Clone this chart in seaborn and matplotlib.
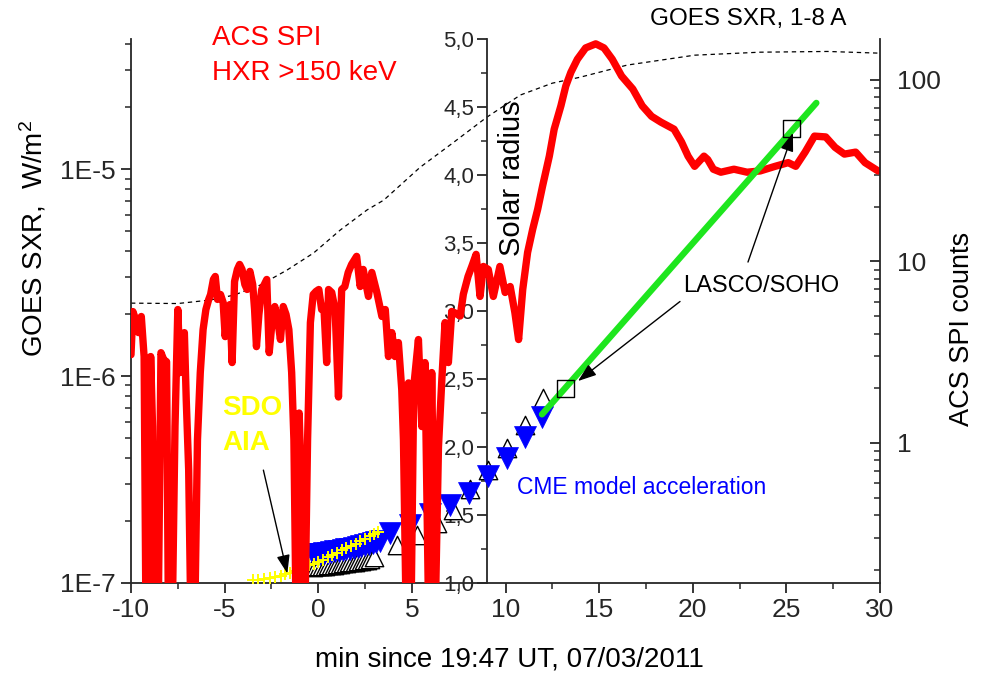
import matplotlib
matplotlib.use("Agg")
import matplotlib.pyplot as plt
import seaborn as sns
from matplotlib.ticker import FixedLocator, FixedFormatter, MultipleLocator, NullFormatter, LogLocator

# ---------------- data ----------------
# ACS SPI counts (right log axis); 0.1 = dropout below the axis
red_t = [-10.0, -9.9, -9.75, -9.6, -9.45, -9.3, -9.2, -9.05, -8.95, -8.85, -8.75, -8.55,
         -8.4, -8.25, -8.1, -8.0, -7.8, -7.65, -7.5, -7.38, -7.25, -7.15, -7.05, -6.92,
         -6.8, -6.6, -6.45, -6.3, -6.15, -6.0, -5.85, -5.75, -5.6, -5.5, -5.38, -5.22,
         -5.08, -4.97, -4.85, -4.72, -4.6, -4.47, -4.32, -4.2, -4.07, -3.92, -3.8, -3.65,
         -3.5, -3.4, -3.3, -3.17, -3.02, -2.88, -2.75, -2.62, -2.47, -2.32, -2.17, -2.02,
         -1.87, -1.72, -1.57, -1.42, -1.3, -1.18, -1.02, -0.88, -0.72, -0.57, -0.42, -0.27,
         -0.12, 0.03, 0.18, 0.3, 0.45, 0.55, 0.72, 0.9, 1.08, 1.25, 1.42, 1.6,
         1.78, 2.05, 2.24, 2.4, 2.68, 2.86, 3.13, 3.4, 3.58, 3.75, 3.93, 4.1,
         4.28, 4.46, 4.55, 4.7, 4.82, 4.95, 5.1, 5.35, 5.53, 5.7, 5.9, 6.06,
         6.24, 6.42, 6.6, 6.77, 6.95, 7.13, 7.3, 7.58, 7.75, 8.0, 8.2, 8.43,
         8.64, 8.82, 9.08, 9.35, 9.7, 9.98, 10.25, 10.5, 10.7, 10.92, 11.18, 11.45,
         11.72, 11.98, 12.34, 12.6, 12.96, 13.22, 13.49, 13.84, 14.28, 14.82, 15.26, 15.7,
         16.2, 16.8, 17.3, 17.8, 18.3, 19.0, 19.4, 19.75, 20.1, 20.6, 20.8, 21.1,
         21.5, 22.2, 22.9, 23.6, 24.4, 25.1, 25.5, 26.0, 26.5, 27.1, 27.6, 28.1,
         28.7, 29.2, 29.9]
red_counts = [3.06, 5.29, 4.78, 4.05, 4.97, 2.99, 0.1, 0.1, 2.99, 1.23, 0.1, 0.1,
              3.14, 2.87, 2.8, 0.1, 0.1, 1.23, 5.43, 2.44, 3.48, 4.05, 1.73, 0.71,
              0.1, 0.1, 1.04, 2.44, 4.21, 5.43, 6.17, 6.57, 7.95, 8.26, 6.17, 6.57,
              5.94, 3.85, 5.43, 5.78, 2.77, 7.75, 9.03, 9.62, 9.03, 7.46, 7.0, 8.81,
              7.46, 5.43, 3.39, 5.1, 7.0, 7.46, 7.95, 3.14, 4.6, 5.64, 4.78, 3.71,
              5.64, 5.1, 4.21, 2.44, 1.04, 0.1, 1.46, 0.48, 0.1, 1.04, 4.6, 6.57,
              6.83, 7.0, 5.43, 5.64, 2.77, 7.0, 6.74, 5.43, 1.79, 7.0, 7.27, 8.69,
              9.62, 10.66, 7.27, 9.03, 6.41, 8.69, 6.74, 4.97, 5.43, 2.99, 4.05, 2.99,
              3.57, 1.96, 1.04, 0.1, 2.14, 0.1, 2.04, 3.71, 1.23, 2.77, 0.1, 2.44,
              0.1, 0.95, 2.23, 4.6, 2.77, 5.3, 5.2, 5.0, 6.6, 8.26, 9.38, 10.93,
              6.41, 9.38, 9.03, 6.41, 9.38, 6.74, 7.27, 5.23, 3.71, 7.0, 11.2, 15.0,
              19.4, 26.0, 38.0, 53.5, 72.0, 92.5, 110.0, 130.0, 150.0, 158.0, 150.0, 130.0,
              105.0, 89.0, 72.0, 63.0, 58.5, 53.5, 45.5, 38.0, 33.4, 38.0, 36.4, 32.2,
              31.0, 32.2, 31.0, 31.5, 33.4, 35.0, 33.4, 40.0, 49.0, 48.5, 42.5, 39.0,
              40.0, 35.0, 31.5]

# GOES SXR 1-8 A flux (left log axis)
goes_t = [-10.0, -7.5, -5.76, -4.5, -3.1, -1.67, -0.25, 1.17, 2.6, 3.5, 5.44, 7.2,
          9.0, 10.8, 12.5, 14.0, 16.5, 20.1, 23.6, 27.2, 30.0]
goes_flux = [2.25e-6, 2.24e-6, 2.33e-6, 2.46e-6, 2.75e-6, 3.25e-6, 3.93e-6, 5.07e-6,
             6.34e-6, 7.08e-6, 1.02e-5, 1.34e-5, 1.78e-5, 2.28e-5, 2.6e-5, 2.78e-5,
             3.18e-5, 3.55e-5, 3.67e-5, 3.7e-5, 3.63e-5]

# CME model acceleration (solar radius)
blue_t = [-0.3, -0.1, 0.1, 0.3, 0.5, 0.7, 0.9, 1.1, 1.3, 1.5, 1.7, 1.9, 2.1, 2.3,
          2.5, 2.7, 2.9, 3.1, 3.3, 3.84, 4.91, 5.98, 7.04, 8.05, 9.07, 10.08, 11.05, 11.95]
blue_r = [1.21, 1.213, 1.216, 1.22, 1.224, 1.228, 1.232, 1.237, 1.242, 1.247, 1.253,
          1.259, 1.265, 1.272, 1.279, 1.286, 1.294, 1.302, 1.31, 1.37, 1.43, 1.51,
          1.57, 1.66, 1.79, 1.92, 2.07, 2.22]

# open triangles (solar radius)
open_t = [-0.3, -0.14, 0.02, 0.18, 0.34, 0.5, 0.66, 0.82, 0.98, 1.14, 1.3, 1.46,
          1.62, 1.78, 1.94, 2.1, 2.26, 2.42, 2.58, 2.74, 3.0, 4.2, 5.3, 6.35, 7.2,
          8.1, 9.07, 10.08, 11.05, 12.0]
open_r = [1.12, 1.122, 1.124, 1.126, 1.128, 1.131, 1.133, 1.136, 1.139, 1.142, 1.145,
          1.148, 1.151, 1.154, 1.157, 1.161, 1.164, 1.167, 1.171, 1.175, 1.19, 1.28,
          1.355, 1.44, 1.54, 1.69, 1.83, 1.99, 2.16, 2.36]

# SDO AIA (solar radius)
aia_t = [-3.5, -3.2, -2.9, -2.6, -2.3, -2.0, -1.75, -1.5, -1.25, -1.0, -0.75, -0.5,
         -0.25, 0.0, 0.25, 0.5, 0.75, 1.0, 1.25, 1.5, 1.75, 2.0, 2.25, 2.5, 2.75, 3.0, 3.2]
aia_r = [1.02, 1.022, 1.028, 1.035, 1.045, 1.055, 1.065, 1.077, 1.09, 1.1, 1.115, 1.13,
         1.14, 1.155, 1.17, 1.19, 1.205, 1.222, 1.24, 1.256, 1.272, 1.29, 1.306, 1.325,
         1.342, 1.36, 1.375]

# LASCO/SOHO points and fit (solar radius)
lasco_t = [13.2, 25.25]
lasco_r = [2.43, 4.34]
green_t = [11.95, 26.6]
green_r = [2.24, 4.53]

x_ticks = [-10, -5, 0, 5, 10, 15, 20, 25, 30]
goes_ticks = [1e-7, 1e-6, 1e-5]
goes_tick_labels = ["1E-7", "1E-6", "1E-5"]
acs_ticks = [1, 10, 100]
acs_tick_labels = ["1", "10", "100"]
radius_ticks = [1.0, 1.5, 2.0, 2.5, 3.0, 3.5, 4.0, 4.5, 5.0]
radius_tick_labels = ["1,0", "1,5", "2,0", "2,5", "3,0", "3,5", "4,0", "4,5", "5,0"]

# ---------------- style ----------------
sns.set_style("ticks")
plt.rcParams['font.family'] = ['Liberation Sans', 'DejaVu Sans']
plt.rcParams['axes.unicode_minus'] = False
plt.rcParams['mathtext.fontset'] = 'custom'
plt.rcParams['mathtext.rm'] = 'Liberation Sans'
plt.rcParams['mathtext.it'] = 'Liberation Sans'

W, H = 989, 677
fig = plt.figure(figsize=(W / 100, H / 100), dpi=100)
L, R, T, B = 131, 880, 39, 583
ax = fig.add_axes([L / W, 1 - B / H, (R - L) / W, (B - T) / H])
ax.patch.set_visible(False)


def fx(px):
    return px / W


def fy(py):
    return 1 - py / H


# ---- main axis: GOES ----
ax.set_yscale('log')
ax.set_xlim(-10, 30)
ax.set_ylim(1e-7, 4.25e-5)
sns.lineplot(x=goes_t, y=goes_flux, ax=ax, color='black', lw=0.9,
             estimator=None, sort=False)
ax.lines[-1].set_dashes([3.5, 3])
for s in ['top', 'right']:
    ax.spines[s].set_visible(False)
for s in ['left', 'bottom']:
    ax.spines[s].set_linewidth(1.3)
ax.xaxis.set_major_locator(FixedLocator(x_ticks))
ax.xaxis.set_minor_locator(MultipleLocator(2.5))
ax.yaxis.set_major_locator(FixedLocator(goes_ticks))
ax.yaxis.set_major_formatter(FixedFormatter(goes_tick_labels))
ax.yaxis.set_minor_locator(LogLocator(base=10, subs=(2, 3, 4, 5, 6, 7, 8, 9), numticks=20))
ax.yaxis.set_minor_formatter(NullFormatter())
ax.tick_params(axis='both', which='major', direction='out', length=7, width=1.3,
               labelsize=19, pad=4)
ax.tick_params(axis='both', which='minor', direction='out', length=4, width=1.1)
ax.set_xlabel('')
ax.set_ylabel('')

# ---- radius axis (markers) ----
ax3 = ax.twinx()
ax3.set_ylim(1.0, 5.0)
for s in ['top', 'right', 'bottom']:
    ax3.spines[s].set_visible(False)
ax3.spines['left'].set_position(('data', 9.0))
ax3.spines['left'].set_linewidth(1.3)
ax3.yaxis.set_ticks_position('left')
ax3.yaxis.set_major_locator(FixedLocator(radius_ticks))
ax3.yaxis.set_major_formatter(FixedFormatter(radius_tick_labels))
ax3.yaxis.set_minor_locator(MultipleLocator(0.25))
ax3.tick_params(axis='y', which='major', direction='out', length=7, width=1.3,
                labelsize=16, pad=2, left=True, right=False, labelleft=True, labelright=False)
ax3.tick_params(axis='y', which='minor', direction='out', length=4.5, width=1.1,
                left=True, right=False)

sns.scatterplot(x=open_t, y=open_r, ax=ax3, marker='^', s=175, color='white',
                edgecolor='black', linewidth=1.0, zorder=3)
sns.scatterplot(x=blue_t, y=blue_r, ax=ax3, marker='v', s=250, color='#0000FF',
                edgecolor='#0000FF', linewidth=0.5, zorder=4)
sns.scatterplot(x=aia_t, y=aia_r, ax=ax3, marker='+', s=70, color='#FFFF00',
                linewidth=1.4, zorder=5)
ax3.set_ylabel('')

# ---- ACS SPI counts axis ----
ax2 = ax.twinx()
ax2.set_yscale('log')
ax2.set_ylim(0.169, 168)
for s in ['top', 'left', 'bottom']:
    ax2.spines[s].set_visible(False)
ax2.spines['right'].set_linewidth(1.3)
sns.lineplot(x=red_t, y=red_counts, ax=ax2, color='#FF0000', lw=5.3,
             estimator=None, sort=False)
ax2.yaxis.set_major_locator(FixedLocator(acs_ticks))
ax2.yaxis.set_major_formatter(FixedFormatter(acs_tick_labels))
ax2.yaxis.set_minor_locator(LogLocator(base=10, subs=(2, 3, 4, 5, 6, 7, 8, 9), numticks=20))
ax2.yaxis.set_minor_formatter(NullFormatter())
ax2.tick_params(axis='y', which='major', direction='in', length=7, width=1.3,
                labelsize=19, pad=12, right=True, left=False)
ax2.tick_params(axis='y', which='minor', direction='in', length=4, width=1.1,
                right=True, left=False)
ax2.set_ylabel('')

# ---- overlay radius axis: LASCO + fit + arrows ----
ax4 = ax.twinx()
ax4.set_ylim(1.0, 5.0)
ax4.axis('off')
sns.scatterplot(x=lasco_t, y=lasco_r, ax=ax4, marker='s', s=150, facecolor='none',
                edgecolor='black', linewidth=1.0, zorder=3)
sns.lineplot(x=green_t, y=green_r, ax=ax4, color='#1EE61E', lw=4.6,
             estimator=None, sort=False)
arrow = dict(arrowstyle='-|>,head_length=0.7,head_width=0.25', color='black', lw=1.0,
             mutation_scale=16, shrinkA=0, shrinkB=0)
ax4.annotate('', xy=(13.87, 2.485), xytext=(19.32, 3.07), arrowprops=arrow)
ax4.annotate('', xy=(25.35, 4.31), xytext=(22.95, 3.36), arrowprops=arrow)
ax4.annotate('', xy=(-1.65, 1.07), xytext=(-2.93, 1.83), arrowprops=arrow)

# ---- texts ----
fig.text(fx(212), fy(38), 'ACS SPI', color='#FF0000', fontsize=20, ha='left', va='center')
fig.text(fx(212), fy(73), 'HXR >150 keV', color='#FF0000', fontsize=20, ha='left', va='center')
fig.text(fx(748), fy(19), 'GOES SXR, 1-8 A', color='black', fontsize=17.5, ha='center', va='center')
fig.text(fx(222), fy(408), 'SDO', color='#FFFF00', fontsize=20, fontweight='bold', ha='left', va='center')
fig.text(fx(222), fy(443), 'AIA', color='#FFFF00', fontsize=20, fontweight='bold', ha='left', va='center')
fig.text(fx(517), fy(488), 'CME model acceleration', color='#0000FF', fontsize=16.5, ha='left', va='center')
fig.text(fx(761), fy(286), 'LASCO/SOHO', color='black', fontsize=17, ha='center', va='center')
fig.text(fx(512), fy(178), 'Solar radius', color='black', fontsize=21, rotation=90, ha='center', va='center')
fig.text(fx(33), fy(238), 'GOES SXR,  W/m$^2$', color='black', fontsize=20, rotation=90, ha='center', va='center')
fig.text(fx(962), fy(329), 'ACS SPI counts', color='black', fontsize=19.5, rotation=90, ha='center', va='center')
fig.text(fx(509), fy(660), 'min since 19:47 UT, 07/03/2011', color='black', fontsize=20, ha='center', va='center')

fig.savefig('out.png', dpi=100)
